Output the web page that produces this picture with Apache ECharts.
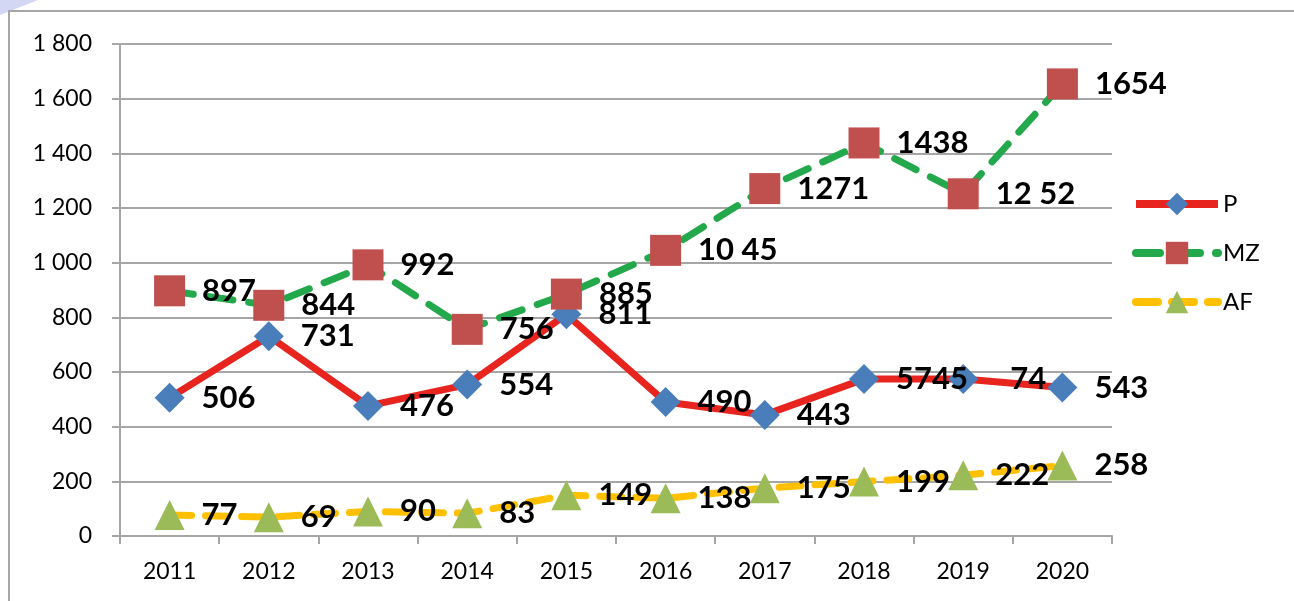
<!DOCTYPE html>
<html>
<head>
<meta charset="utf-8">
<script src="https://cdn.jsdelivr.net/npm/echarts@6/dist/echarts.min.js"></script>
<style>
    html, body { margin: 0; padding: 0; background: #fff; }
    #tu1 { width: 1294px; height: 601px; }
</style>
</head>
<body>
<div id="tu1"></div>
<script>
var years = ['2011', '2012', '2013', '2014', '2015', '2016', '2017', '2018', '2019', '2020'];

var pData  = [506, 731, 476, 554, 811, 490, 443, 574, 574, 543];
var mzData = [897, 844, 992, 756, 885, 1045, 1271, 1438, 1252, 1654];
var afData = [77, 69, 90, 83, 149, 138, 175, 199, 222, 258];

// labels as printed on the picture (some are broken up in the original)
var pLabels  = ['506', '731', '476', '554', '811', '490', '443', '5745', '\u00a0\u00a074', '543'];
var mzLabels = ['897', '844', '992', '756', '885', '10 45', '1271', '1438', '12 52', '1654'];
var afLabels = ['77', '69', '90', '83', '149', '138', '175', '199', '222', '258'];

var yTickLabels = ['0', '200', '400', '600', '800', '1 000', '1 200', '1 400', '1 600', '1 800'];

var myChart1 = echarts.init(document.getElementById('tu1'));

function dataLabel(list) {
    return {
        show: true,
        position: 'right',
        distance: 17,
        color: '#000',
        fontFamily: 'Lato',
        fontWeight: 'bold',
        fontSize: 31,
        formatter: function (p) {
            return list[p.dataIndex];
        }
    };
}

var option1 = {
    backgroundColor: '#fff',
    animation: false,
    textStyle: { fontFamily: 'Lato' },
    graphic: [
        {
            type: 'polygon',
            shape: { points: [[0, 0], [38, 0], [0, 15]] },
            style: { fill: '#d4d7f3' }
        },
        {
            type: 'polyline',
            shape: { points: [[9, 601], [9, 11], [1294, 11]] },
            style: { stroke: '#a6a6a6', lineWidth: 2, fill: null }
        }
    ],
    legend: {
        orient: 'vertical',
        left: 1127,
        top: 187,
        itemWidth: 82,
        itemHeight: 28,
        itemGap: 25,
        lineStyle: { width: 8 },
        textStyle: {
            color: '#000',
            fontSize: 24,
            fontFamily: 'Lato'
        },
        data: ['P', 'MZ', 'AF']
    },
    grid: {
        left: 120,
        right: 182,
        top: 44,
        bottom: 65,
        containLabel: false
    },
    xAxis: {
        type: 'category',
        data: years,
        boundaryGap: true,
        axisLine: { lineStyle: { color: '#a6a6a6', width: 2 } },
        axisTick: { show: true, length: 8, lineStyle: { color: '#a6a6a6', width: 2 } },
        axisLabel: {
            color: '#000',
            fontSize: 23,
            fontFamily: 'Lato',
            margin: 24
        }
    },
    yAxis: {
        type: 'value',
        min: 0,
        max: 1800,
        interval: 200,
        axisLine: { show: true, lineStyle: { color: '#a6a6a6', width: 2 } },
        axisTick: { show: true, length: 8, lineStyle: { color: '#a6a6a6', width: 2 } },
        splitLine: { lineStyle: { color: '#a6a6a6', width: 2 } },
        axisLabel: {
            color: '#000',
            fontSize: 23,
            fontFamily: 'Lato',
            margin: 28,
            formatter: function (v) {
                return yTickLabels[Math.round(v / 200)];
            }
        }
    },
    series: [
        {
            name: 'P',
            type: 'line',
            data: pData,
            symbol: 'diamond',
            symbolSize: 30,
            itemStyle: { color: '#4a7ebb' },
            lineStyle: { color: '#e8241f', width: 7 },
            label: dataLabel(pLabels),
            z: 2
        },
        {
            name: 'MZ',
            type: 'line',
            data: mzData,
            symbol: 'rect',
            symbolSize: 31,
            itemStyle: { color: '#c0504d' },
            lineStyle: { color: '#23a84c', width: 7, type: [24, 16], cap: 'round' },
            label: dataLabel(mzLabels),
            z: 3
        },
        {
            name: 'AF',
            type: 'line',
            data: afData,
            symbol: 'triangle',
            symbolSize: 30,
            itemStyle: { color: '#9bbb59' },
            lineStyle: { color: '#ffc000', width: 7, type: [22, 14], cap: 'round' },
            label: dataLabel(afLabels),
            z: 4
        }
    ]
};

myChart1.setOption(option1);
</script>
</body>
</html>
